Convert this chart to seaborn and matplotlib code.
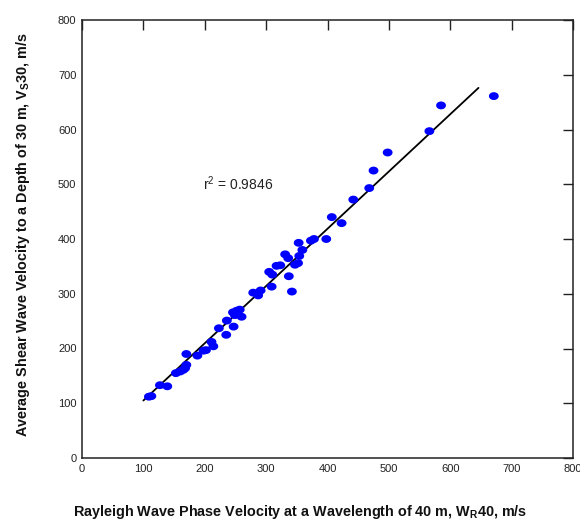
import numpy as np
import matplotlib
matplotlib.use("Agg")
import matplotlib.pyplot as plt
import seaborn as sns
from matplotlib.path import Path

# Rayleigh wave phase velocity (x) and Vs30 (y), m/s
rayleigh = [109, 113, 127, 139, 153, 160, 165, 168, 170, 170,
            188, 198, 202, 211, 214, 223, 235, 236, 247, 246,
            252, 257, 260, 249, 279, 287, 291, 309, 305, 310,
            317, 323, 331, 336, 337, 342, 347, 352, 354, 353,
            359, 373, 378, 398, 407, 423, 442, 468, 475, 498,
            566, 585, 671]
vs30 = [112, 113, 133, 131, 155, 158, 161, 164, 170, 190,
        187, 196, 197, 212, 204, 237, 225, 251, 240, 266,
        269, 271, 258, 261, 302, 297, 306, 313, 340, 335,
        351, 352, 372, 365, 332, 304, 353, 356, 369, 393,
        380, 397, 400, 400, 440, 429, 472, 493, 525, 558,
        597, 644, 661]

fit_x = [100, 646]
fit_y = [105, 676]

x_ticks = [0, 100, 200, 300, 400, 500, 600, 700, 800]
y_ticks = [0, 100, 200, 300, 400, 500, 600, 700, 800]

r2_label = r"r$^2$ = 0.9846"
x_label = r"Rayleigh Wave Phase Velocity at a Wavelength of 40 m, W$_\mathbf{R}$40, m/s"
y_label = r"Average Shear Wave Velocity to a Depth of 30 m, V$_\mathbf{S}$30, m/s"

sns.set_theme(style="white")
plt.rcParams["font.family"] = ["Liberation Sans", "DejaVu Sans"]
plt.rcParams["mathtext.fontset"] = "custom"
plt.rcParams["mathtext.rm"] = "Liberation Sans"
plt.rcParams["mathtext.bf"] = "Liberation Sans:bold"
plt.rcParams["mathtext.it"] = "Liberation Sans:italic"

fig = plt.figure(figsize=(5.8, 5.21), dpi=100)
ax = fig.add_axes([82 / 580, 63 / 521, 491 / 580, 438 / 521])

t = np.linspace(0, 2 * np.pi, 40)
ell = Path(np.column_stack([1.25 * np.cos(t), np.sin(t)]), closed=True)

sns.scatterplot(x=rayleigh, y=vs30, marker=ell, s=50, color="#0000ff",
                edgecolor="none", linewidth=0, ax=ax, zorder=3)
sns.lineplot(x=fit_x, y=fit_y, color="black", linewidth=1.3, ax=ax, zorder=2)

ax.set_xlim(0, 800)
ax.set_ylim(0, 800)
ax.set_xticks(x_ticks)
ax.set_yticks(y_ticks)
ax.tick_params(direction="in", length=7, width=1, top=True, right=True,
               labelsize=8, pad=4, labelcolor="#222222", color="#222222")
for s in ax.spines.values():
    s.set_color("#222222")
    s.set_linewidth(1.1)

ax.text(197, 489, r2_label, fontsize=10, color="#222222", ha="left", va="baseline")

ax.set_xlabel(x_label, fontsize=10.4, fontweight="bold", labelpad=21, color="#111111")
ax.set_ylabel(y_label, fontsize=10.4, fontweight="bold", labelpad=19, color="#111111")
ax.xaxis.label.set_x(0.445)
ax.yaxis.label.set_y(0.511)

fig.savefig("out.png", dpi=100, facecolor="white")
